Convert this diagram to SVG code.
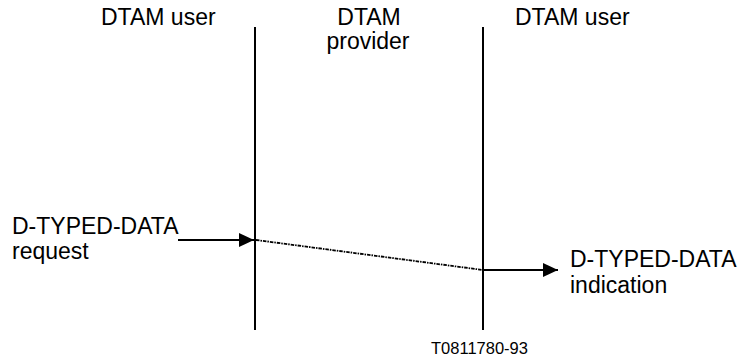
<svg xmlns="http://www.w3.org/2000/svg" width="744" height="360" viewBox="0 0 744 360">
<style>
  text { font-family: "Liberation Sans", Arial, sans-serif; font-size: 23px; fill: #000; }
  .small { font-size: 16.5px; }
  .life { stroke: #000; stroke-width: 2; fill: none; }
  .arrow { stroke: #000; stroke-width: 2; fill: none; }
  .dotted { stroke: #000; stroke-width: 1.8; fill: none; stroke-dasharray: 3.5 1 1.5 1; }
</style>
<defs>
  <marker id="ah" markerWidth="16" markerHeight="14" refX="15" refY="7" orient="auto" markerUnits="userSpaceOnUse">
    <path d="M0,0 L15,7 L0,14 Z" fill="#000"/>
  </marker>
</defs>
<rect width="744" height="360" fill="#fff"/>
<g id="user-left">
  <text x="101" y="25">DTAM user</text>
  <line class="life" x1="255" y1="27" x2="255" y2="330"/>
</g>
<g id="provider">
  <text x="369" y="25" text-anchor="middle">DTAM</text>
  <text x="368" y="48.5" text-anchor="middle">provider</text>
  <line class="life" x1="483" y1="27" x2="483" y2="330"/>
</g>
<g id="user-right">
  <text x="515" y="25">DTAM user</text>
</g>
<g id="request">
  <text x="12" y="234">D-TYPED-DATA</text>
  <text x="12" y="259">request</text>
</g>
<g id="indication">
  <text x="570" y="267">D-TYPED-DATA</text>
  <text x="570" y="293">indication</text>
</g>
<g id="connectors">
  <line class="arrow" x1="178" y1="240" x2="254" y2="240" marker-end="url(#ah)"/>
  <line class="dotted" x1="256" y1="240" x2="483" y2="270"/>
  <line class="arrow" x1="483" y1="270" x2="558" y2="270" marker-end="url(#ah)"/>
</g>
<text class="small" x="431" y="354">T0811780-93</text>
</svg>
